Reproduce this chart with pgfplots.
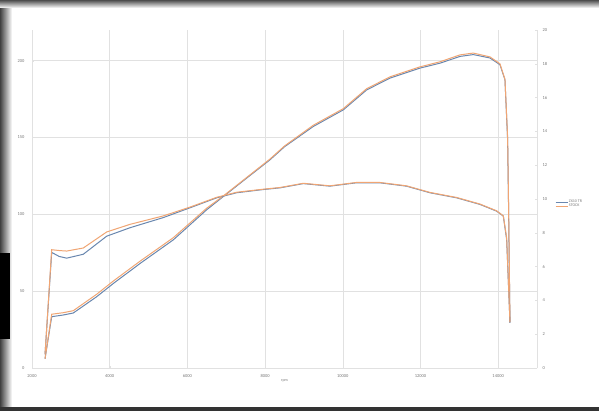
\documentclass[border=0pt]{standalone}
\usepackage{pgfplots}
\pgfplotsset{compat=1.18}
\usepackage{fontspec}
\setmainfont{Carlito}
\definecolor{sblue}{RGB}{105,135,175}
\definecolor{sorange}{RGB}{240,165,115}
\definecolor{gridc}{RGB}{225,225,225}
\definecolor{tickc}{RGB}{120,120,120}
\pgfplotsset{
  common/.style={
    at={(32bp,43bp)}, anchor=south west,
    width=505bp, height=338bp, scale only axis,
    xmin=2000, xmax=15000,
    scaled x ticks=false, scaled y ticks=false,
    ticklabel style={font=\fontsize{4.5}{5}\selectfont, text=tickc},
    /pgf/number format/1000 sep={},
    /pgf/number format/assume math mode=true,
  }
}
\begin{document}
\begin{tikzpicture}
\fill[white] (0,0) rectangle (599bp,411bp);
\useasboundingbox (0,0) rectangle (599bp,411bp);
% screenshot frame
\shade[left color=black!75, right color=white] (0,0) rectangle (12bp,411bp);
\shade[top color=black!70, bottom color=white] (0,403bp) rectangle (599bp,411bp);
\fill[black!80] (0,0) rectangle (599bp,4bp);
\fill[black] (0,72bp) rectangle (10bp,158bp);
\begin{axis}[common,
  ymin=0, ymax=220,
  xtick={2000,4000,...,14000}, ytick={0,50,...,200},
  grid=major, major grid style={gridc, line width=0.5pt},
  axis line style={gridc},
  axis x line*=bottom, axis y line*=left, y axis line style={draw=none},
  tick style={gridc}, major tick length=2bp,
  yticklabel style={xshift=-4bp},
  xticklabel style={yshift=-3bp},
  xlabel={rpm}, xlabel style={font=\fontsize{4}{5}\selectfont, text=tickc, yshift=5bp},
  legend style={at={(1.036,0.485)}, anchor=west, draw=none, fill=none,
    font=\fontsize{4}{5}\selectfont, text=tickc, row sep=-2.5bp,
    inner sep=0pt, nodes={inner sep=1pt}},
  legend cell align=left,
  legend image code/.code={\draw[#1, line width=0.6pt] (0,0) -- (12bp,0);},
]
\addplot[sblue, line width=1pt] coordinates {
(2335,6) (2507,33.4) (2806,34.5) (3063,35.8) (3665,46.4) (4093,55) (4780,68)
(5637,83.4) (6497,103) (6925,111.6) (7526,123.6) (8126,135.5) (8500,144)
(9241,157.2) (10013,168) (10615,181) (11215,188.7) (11987,195.2) (12502,198.4)
(13017,202.8) (13360,204) (13789,201.8) (14046,197.4) (14175,187.6)
(14244,148.5) (14270,101) (14304,29.3)};
\addlegendentry{ZX10 TR}
\addplot[sorange, line width=1pt] coordinates {
(2335,6) (2507,35) (2806,36) (3063,37.3) (3665,48) (4093,56.6) (4780,69.5)
(5637,84.8) (6497,104) (6925,112) (7526,124) (8126,136) (8500,144.5)
(9241,158) (10013,168.8) (10615,181.8) (11215,189.5) (11987,196) (12502,199.3)
(13017,203.8) (13360,205) (13789,202.5) (14046,198) (14175,188)
(14244,150) (14270,103) (14304,30)};
\addlegendentry{STOCK}
\end{axis}
\begin{axis}[common,
  ymin=0, ymax=20,
  axis x line=none, axis y line*=right,
  axis line style={gridc},
  ytick={0,2,...,20}, tick style={gridc}, major tick length=2bp,
  yticklabel style={xshift=2bp},
]
\addplot[sblue, line width=1pt] coordinates {
(2335,0.8) (2507,6.84) (2700,6.6) (2893,6.5) (3320,6.73) (3923,7.8) (4523,8.3)
(5380,8.9) (6067,9.48) (6754,10.07) (7269,10.37) (7954,10.56) (8384,10.66)
(8984,10.91) (9670,10.76) (10357,10.96) (10950,10.96) (11640,10.76)
(12244,10.37) (12931,10.07) (13532,9.68) (13962,9.28) (14133,8.99)
(14219,7.6) (14304,2.7)};
\addplot[sorange, line width=1pt] coordinates {
(2335,0.8) (2507,7.0) (2700,6.95) (2893,6.92) (3320,7.1) (3923,8.05) (4523,8.5)
(5380,9.0) (6067,9.52) (6754,10.1) (7269,10.4) (7954,10.58) (8384,10.68)
(8984,10.93) (9670,10.78) (10357,10.98) (10950,10.98) (11640,10.78)
(12244,10.39) (12931,10.09) (13532,9.7) (13962,9.3) (14133,9.0)
(14219,7.7) (14304,2.7)};
\end{axis}
\end{tikzpicture}
\end{document}
